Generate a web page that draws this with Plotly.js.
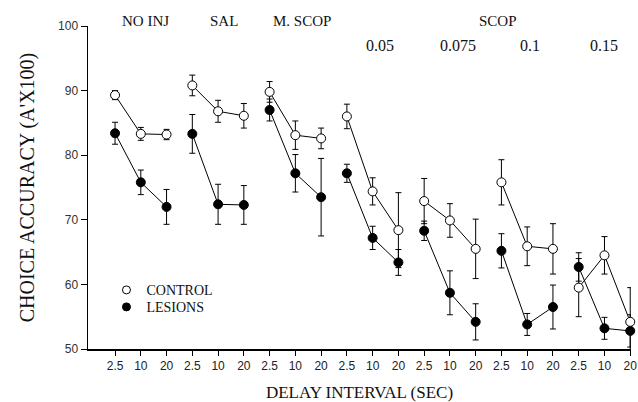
<!DOCTYPE html>
<html>
<head>
<meta charset="utf-8">
<script src="https://cdn.plot.ly/plotly-3.0.1.min.js"></script>
<style>html,body{margin:0;padding:0;background:#fff;}#chart{width:638px;height:402px;}</style>
</head>
<body>
<div id="chart"></div>
<script>
// Delay intervals (tick labels, repeated per condition)
const delays = ['2.5', '10', '20'];
// Conditions (groups of three delays)
const conditions = ['NO INJ', 'SAL', 'M. SCOP', 'SCOP 0.05', 'SCOP 0.075', 'SCOP 0.1', 'SCOP 0.15'];

// CONTROL means and error (+/-)
const controlMean = [89.3, 83.3, 83.2,  90.8, 86.8, 86.1,  89.8, 83.1, 82.6,  86.0, 74.4, 68.4,  72.9, 69.9, 65.5,  75.8, 65.9, 65.5,  59.5, 64.5, 54.2];
const controlErr  = [0.7, 1.0, 0.8,     1.6, 1.7, 1.9,     1.6, 2.2, 1.6,     1.9, 2.1, 5.8,     3.5, 2.6, 4.6,     3.5, 3.0, 3.9,     4.5, 2.9, 5.3];

// LESIONS means and error (+/-)
const lesionMean  = [83.4, 75.8, 72.0,  83.3, 72.4, 72.3,  87.0, 77.2, 73.5,  77.2, 67.2, 63.4,  68.3, 58.7, 54.2,  65.2, 53.8, 56.5,  62.7, 53.2, 52.8];
const lesionErr   = [1.7, 1.9, 2.7,     3.0, 3.1, 3.0,     1.7, 2.9, 6.0,     1.4, 1.8, 2.0,     1.5, 3.4, 2.8,     2.65, 1.7, 3.4,    2.2, 1.7, 2.5];

// Group header labels
const headerLabels = ['NO INJ', 'SAL', 'M. SCOP', 'SCOP'];
const doseLabels = ['0.05', '0.075', '0.1', '0.15'];

const serif = 'Liberation Serif, Times New Roman, serif';
const sans = 'Liberation Sans, Arial, sans-serif';

const positions = [];
const tickText = [];
conditions.forEach((c, g) => delays.forEach((d, k) => { positions.push(g * 3 + k + 1); tickText.push(d); }));

const traces = [];
function addSeries(mean, err, filled, name, legendId) {
  conditions.forEach((c, g) => {
    const idx = [g * 3, g * 3 + 1, g * 3 + 2];
    traces.push({
      type: 'scatter', mode: 'lines+markers', name: name, showlegend: false,
      x: idx.map(i => positions[i]), y: idx.map(i => mean[i]),
      error_y: { type: 'data', array: idx.map(i => err[i]), visible: true, color: '#000', thickness: 1, width: 3 },
      line: { color: '#000', width: 1 },
      marker: { size: 9, color: filled ? '#000' : '#fff', line: { color: '#000', width: 1 } },
      cliponaxis: false
    });
  });
  traces.push({
    type: 'scatter', mode: 'markers', name: name, showlegend: true, legend: legendId,
    x: [null], y: [null],
    marker: { size: 8, color: filled ? '#000' : '#fff', line: { color: '#000', width: 1 } }
  });
}
addSeries(lesionMean, lesionErr, true, 'LESIONS', 'legend2');
addSeries(controlMean, controlErr, false, 'CONTROL', 'legend');

const headerX = [2.17, 5.24, 8.25, 15.85];
const doseX = [11.3, 14.3, 17.1, 20.0];
const annotations = [];
headerLabels.forEach((t, i) => annotations.push({
  text: t, x: headerX[i], xref: 'x', y: 1.015, yref: 'paper', showarrow: false,
  xanchor: 'center', yanchor: 'middle', font: { family: serif, size: 15, color: '#111' }
}));
doseLabels.forEach((t, i) => annotations.push({
  text: t, x: doseX[i], xref: 'x', y: 0.94, yref: 'paper', showarrow: false,
  xanchor: 'center', yanchor: 'middle', font: { family: serif, size: 16, color: '#111' }
}));

const legendStyle = {
  xanchor: 'left', yanchor: 'top', itemwidth: 30,
  font: { family: serif, size: 14, color: '#111' }, bgcolor: 'rgba(0,0,0,0)', borderwidth: 0
};

const layout = {
  width: 638, height: 402,
  margin: { l: 88, r: 7, t: 26, b: 53 },
  paper_bgcolor: '#fff', plot_bgcolor: '#fff',
  showlegend: true,
  legend: Object.assign({ x: 0.034, y: 0.2312 }, legendStyle),
  legend2: Object.assign({ x: 0.034, y: 0.1787 }, legendStyle),
  xaxis: {
    range: [-0.05, 21.03], tickvals: positions, ticktext: tickText,
    ticks: 'outside', ticklen: 5, tickwidth: 1, tickcolor: '#000',
    ticklabeloverflow: 'allow',
    showline: true, linewidth: 1.5, linecolor: '#000', showgrid: false, zeroline: false,
    tickfont: { family: sans, size: 12, color: '#222' },
    title: { text: 'DELAY INTERVAL (SEC)', font: { family: serif, size: 17, color: '#111' }, standoff: 14 }
  },
  yaxis: {
    range: [50, 100], tickvals: [50, 60, 70, 80, 90, 100],
    ticks: 'outside', ticklen: 6, tickwidth: 1, tickcolor: '#000',
    showline: true, linewidth: 1.5, linecolor: '#000', showgrid: false, zeroline: false,
    tickfont: { family: sans, size: 12, color: '#333' },
    title: { text: "CHOICE ACCURACY (A'X100)", font: { family: serif, size: 20, color: '#111' }, standoff: 18 }
  },
  annotations: annotations
};

Plotly.newPlot('chart', traces, layout, { displayModeBar: false, staticPlot: true });
</script>
</body>
</html>
